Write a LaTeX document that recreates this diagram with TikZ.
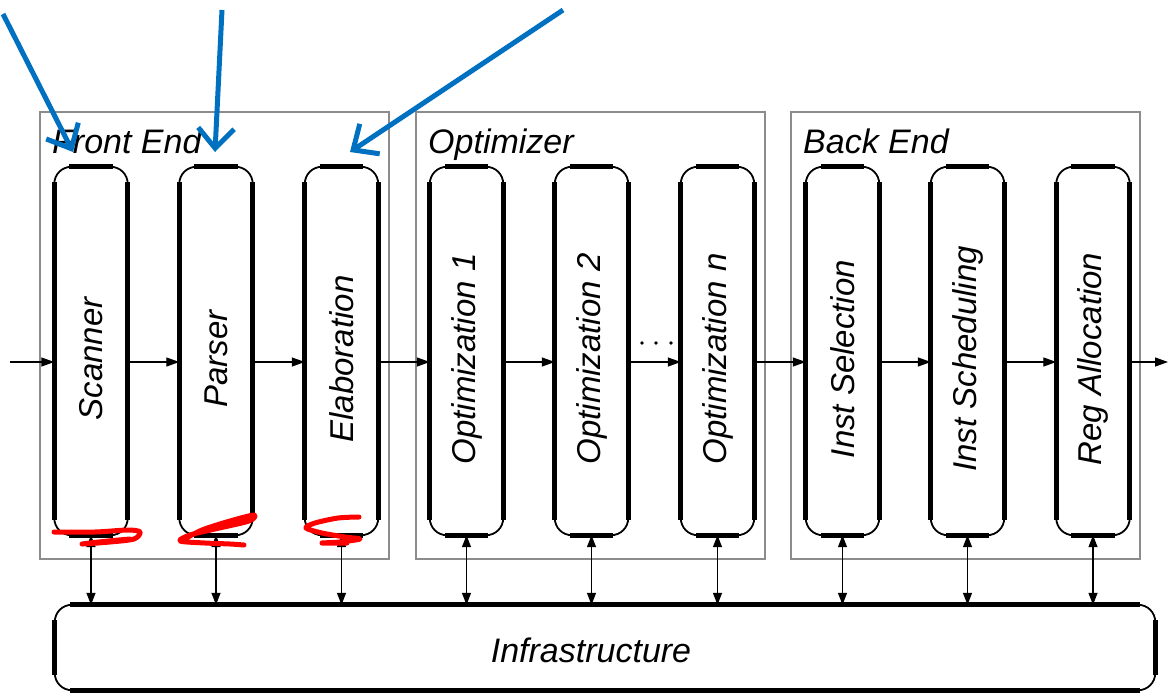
\documentclass[tikz,border=0pt]{standalone}
\usepackage{fontspec}
\setmainfont{Liberation Sans}
\usetikzlibrary{arrows.meta}
\definecolor{noteblue}{RGB}{0,112,192}
\definecolor{grpgray}{RGB}{140,140,140}
\newcommand\stageframe[1]{%
  \draw[line width=1.8pt, rounded corners=17pt] (#1.south west) rectangle (#1.north east);
  \draw[line width=5pt] ([yshift=15pt]#1.south west) -- ([yshift=-15pt]#1.north west);
  \draw[line width=5pt] ([yshift=15pt]#1.south east) -- ([yshift=-15pt]#1.north east);
  \draw[line width=5pt] ([xshift=15pt]#1.north west) -- ([xshift=-15pt]#1.north east);
  \draw[line width=5pt] ([xshift=15pt]#1.south west) -- ([xshift=-15pt]#1.south east);
}
\newcommand\vlabel[1]{\rotatebox{90}{#1\hspace*{16pt}}}
\begin{document}
\begin{tikzpicture}[x=1pt,y=-1pt,
  grp/.style={draw=grpgray, line width=1.3pt},
  stage/.style={minimum width=73pt, minimum height=368pt, inner sep=0pt, font=\fontsize{33}{40}\selectfont\itshape},
  flow/.style={line width=1.3pt, -{Triangle[length=13pt,width=9pt]}},
  bi/.style={line width=1.3pt, {Triangle[length=12pt,width=9pt]}-{Triangle[length=12pt,width=9pt]}},
  note/.style={draw=noteblue, line width=5pt, -{Straight Barb[length=20pt,width=36pt]}},
  scrib/.style={draw=red, line width=5pt, line cap=round, line join=round},
  title/.style={anchor=base west, inner sep=0pt, font=\fontsize{34}{40}\selectfont\itshape}
]
\useasboundingbox (0,0) rectangle (1172,699);

% group boxes
\node[grp, minimum width=349pt, minimum height=447pt, inner sep=0pt] (fe) at (214.5,335.5) {};
\node[grp, minimum width=349pt, minimum height=447pt, inner sep=0pt] (op) at (590.5,335.5) {};
\node[grp, minimum width=349pt, minimum height=447pt, inner sep=0pt] (be) at (965.5,335.5) {};
\node[title] (tfe) at (52,153) {Front End};
\node[title] (top) at (428,153) {Optimizer};
\node[title] (tbe) at (803,153) {Back End};

% stages
\node[stage] (scan) at (91,351) {\vlabel{Scanner}};
\node[stage] (pars) at (216,351) {\vlabel{Parser}};
\node[stage] (elab) at (341.5,351) {\vlabel{Elaboration}};
\node[stage] (opta) at (466.5,351) {\vlabel{Optimization 1}};
\node[stage] (optb) at (591.5,351) {\vlabel{Optimization 2}};
\node[stage] (optn) at (717.5,351) {\vlabel{Optimization \textit{n}}};
\node[stage] (isel) at (842.5,351) {\vlabel{Inst Selection}};
\node[stage] (isch) at (967.5,351) {\vlabel{Inst Scheduling}};
\node[stage] (ralc) at (1093,351) {\vlabel{Reg Allocation}};
\foreach \s in {scan,pars,elab,opta,optb,optn,isel,isch,ralc} {\stageframe{\s}}

% infrastructure
\node[minimum width=1100pt, minimum height=85pt, inner sep=0pt] (infra) at (605,647.5) {};
\stageframe{infra}
\node[inner sep=0pt, font=\fontsize{34}{40}\selectfont\itshape] (tinfra) at (591,650) {Infrastructure};

% flow arrows
\coordinate (in) at (10,362);
\coordinate (out) at (1168,362);
\draw[flow] (in) -- (scan.west |- in);
\draw[flow] (scan.east |- in) -- (pars.west |- in);
\draw[flow] (pars.east |- in) -- (elab.west |- in);
\draw[flow] (elab.east |- in) -- (opta.west |- in);
\draw[flow] (opta.east |- in) -- (optb.west |- in);
\draw[flow] (optb.east |- in) -- (optn.west |- in);
\draw[flow] (optn.east |- in) -- (isel.west |- in);
\draw[flow] (isel.east |- in) -- (isch.west |- in);
\draw[flow] (isch.east |- in) -- (ralc.west |- in);
\draw[flow] (ralc.east |- in) -- (out);
\foreach \x in {642,656,671} \fill (\x,343) circle (1.9pt);

% to infrastructure
\foreach \s in {scan,pars,elab,opta,optb,optn,isel,isch,ralc}
  \draw[bi] (\s.south) -- (\s.south |- infra.north);

% blue annotation arrows
\coordinate (b1s) at (3,14);  \coordinate (b1e) at (73,152);
\coordinate (b2s) at (222,10); \coordinate (b2e) at (215,152);
\coordinate (b3s) at (563,10); \coordinate (b3e) at (350,152);
\draw[note] (b1s) -- (b1e);
\draw[note] (b2s) -- (b2e);
\draw[note] (b3s) -- (b3e);

% red scribbles
\draw[scrib] plot[smooth] coordinates {(54,532) (95,532) (128,530) (140,532) (134,539) (110,542) (82,544) (108,541) (130,539)};
\draw[scrib] plot[smooth] coordinates {(181,541) (202,530) (230,521) (254,515) (249,521) (215,529) (190,535) (180,541) (205,543) (230,544) (244,545)};
\draw[scrib] plot[smooth] coordinates {(359,517) (338,518) (315,523) (306,528) (322,533) (345,537) (360,539) (340,542) (322,543) (347,543)};
\end{tikzpicture}
\end{document}
